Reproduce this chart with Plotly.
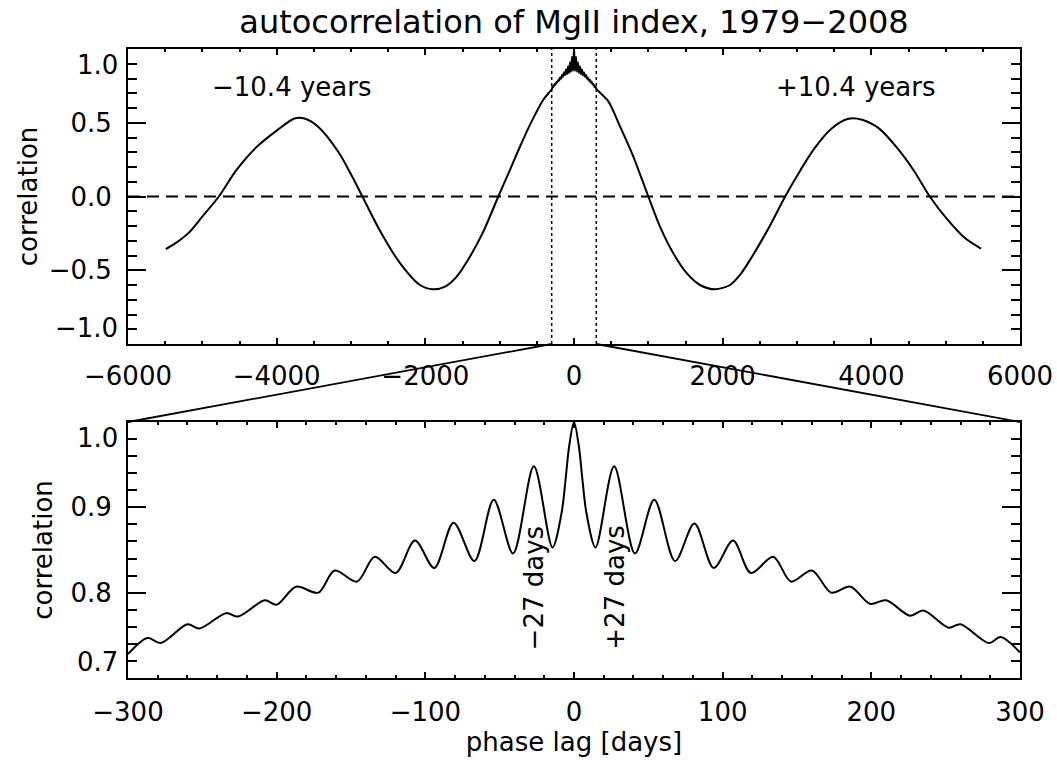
import plotly.graph_objects as go

# ---------------- data ----------------
# long-range autocorrelation (top panel), outside the +/-300 day window
lag_long_left = [-5492, -5364, -5181, -4998, -4778, -4540, -4265, -3991, -3762, -3625,
                 -3442, -3167, -2984, -2847, -2618, -2343, -2072, -1892, -1735, -1578,
                 -1399, -1220, -1018, -861, -726, -570, -413]
corr_long_left = [-0.356, -0.318, -0.245, -0.135, 0.0, 0.18, 0.338, 0.45, 0.529, 0.529,
                  0.473, 0.30, 0.135, 0.0, -0.225, -0.45, -0.600, -0.629, -0.611, -0.543,
                  -0.407, -0.238, 0.0, 0.181, 0.339, 0.509, 0.656]

lag_long_right = [462, 619, 798, 1000, 1157, 1336, 1516, 1695, 1897, 2099,
                  2233, 2405, 2634, 2841, 3048, 3232, 3462, 3692, 3876, 4106,
                  4336, 4566, 4786, 5025, 5255, 5476]
corr_long_right = [0.645, 0.475, 0.271, 0.0, -0.204, -0.385, -0.520, -0.600, -0.629, -0.600,
                   -0.532, -0.40, -0.20, 0.0, 0.18, 0.325, 0.46, 0.527, 0.52, 0.46,
                   0.336, 0.18, 0.0, -0.157, -0.28, -0.354]

# short-range autocorrelation (bottom panel), -300 .. +300 days
lag_short = [-300, -287, -278, -260, -252, -234, -226, -208, -200, -187,
             -172, -161, -146, -134, -120, -107, -94, -81, -67, -54,
             -41, -27, -14.5, -8.4, -5.7, -3.3, 0, 3.3, 5.7, 8.4,
             14.5, 27, 41, 54, 68, 81, 94, 107, 119, 134,
             146, 160, 173, 186, 199, 210, 226, 235, 252, 260,
             279, 287, 300]
corr_short = [0.728, 0.747, 0.741, 0.763, 0.758, 0.776, 0.772, 0.791, 0.786, 0.807,
              0.800, 0.826, 0.813, 0.842, 0.823, 0.861, 0.829, 0.882, 0.837, 0.909,
              0.846, 0.948, 0.853, 0.893, 0.932, 0.971, 1.0, 0.971, 0.932, 0.893,
              0.853, 0.948, 0.846, 0.909, 0.837, 0.881, 0.829, 0.861, 0.823, 0.842,
              0.813, 0.826, 0.800, 0.807, 0.787, 0.791, 0.773, 0.779, 0.759, 0.763,
              0.741, 0.748, 0.730]

top_xticks = [-6000, -4000, -2000, 0, 2000, 4000, 6000]
top_yticks = [-0.5, 0.0, 0.5]
bot_xticks = [-300, -200, -100, 0, 100, 200, 300]
bot_yticks = [0.8, 0.9]

title_text = "autocorrelation of MgII index, 1979\u22122008"
ytitle = "correlation"
xtitle = "phase lag [days]"
label_left_years = "\u221210.4 years"
label_right_years = "+10.4 years"
label_left_days = "\u221227 days"
label_right_days = "+27 days"
years_lag = 3800
days_lag = 27

# ---------------- layout constants ----------------
FONT = "DejaVu Sans"
W, H = 1057, 763
top_range = [-6000, 6000]
bot_range = [-300, 300]
top_dom = [0.531, 1.0]
bot_dom = [0.0, 0.407]

lag_top = lag_long_left + lag_short + lag_long_right
corr_top = corr_long_left + corr_short + corr_long_right

fig = go.Figure()
fig.add_trace(go.Scatter(x=lag_top, y=corr_top, mode="lines",
                         line=dict(color="black", width=2, shape="spline", smoothing=0.8),
                         xaxis="x", yaxis="y", showlegend=False, hoverinfo="skip"))
fig.add_trace(go.Scatter(x=lag_short, y=corr_short, mode="lines",
                         line=dict(color="black", width=2, shape="spline", smoothing=0.9),
                         xaxis="x2", yaxis="y2", showlegend=False, hoverinfo="skip"))

tickfont = dict(family=FONT, size=26, color="black")
common = dict(showline=True, linecolor="black", linewidth=2, mirror="ticks",
              ticks="inside", tickcolor="black", tickwidth=2, automargin=False,
              showgrid=False, zeroline=False, tickfont=tickfont)

fig.update_layout(
    template="none",
    width=W, height=H,
    paper_bgcolor="white", plot_bgcolor="white",
    margin=dict(l=128, r=37, t=49, b=85),
    title=dict(text=title_text, font=dict(family=FONT, size=32, color="black"),
               x=0.5, xref="paper", xanchor="center",
               y=1 - 22 / H, yref="container", yanchor="middle"),
    xaxis=dict(domain=[0, 1], range=top_range, anchor="y",
               tickmode="array", tickvals=top_xticks, ticklen=6,
               ticklabelstandoff=8,
               minor=dict(ticks="inside", ticklen=3, tickwidth=2, tickcolor="black",
                          tick0=0, dtick=500, showgrid=False),
               **common),
    yaxis=dict(domain=top_dom, range=[-1, 1], anchor="x",
               tickmode="array", tickvals=top_yticks, tickformat=".1f", ticklen=18,
               ticklabelstandoff=9,
               minor=dict(ticks="inside", ticklen=9, tickwidth=2, tickcolor="black",
                          tick0=0, dtick=0.1, showgrid=False),
               title=dict(text=ytitle, font=dict(family=FONT, size=26, color="black"),
                          standoff=4),
               **common),
    xaxis2=dict(domain=[0, 1], range=bot_range, anchor="y2",
                tickmode="array", tickvals=bot_xticks, ticklen=6,
                ticklabelstandoff=10,
                minor=dict(ticks="inside", ticklen=3, tickwidth=2, tickcolor="black",
                           tick0=0, dtick=20, showgrid=False),
                title=dict(text=xtitle, font=dict(family=FONT, size=26, color="black"),
                           standoff=5),
                **common),
    yaxis2=dict(domain=bot_dom, range=[0.7, 1.0], anchor="x2",
                tickmode="array", tickvals=bot_yticks, tickformat=".1f", ticklen=18,
                ticklabelstandoff=9,
                minor=dict(ticks="inside", ticklen=9, tickwidth=2, tickcolor="black",
                           tick0=0.7, dtick=0.02, showgrid=False),
                title=dict(text=ytitle, font=dict(family=FONT, size=26, color="black"),
                           standoff=10),
                **common),
)

# end tick labels, pulled inside the axis span as in the reference
end_labels = [("y", 1.0, "1.0", "top"), ("y", -1.0, "\u22121.0", "bottom"),
              ("y2", 1.0, "1.0", "top"), ("y2", 0.7, "0.7", "bottom")]
for yref, yv, txt, anc in end_labels:
    fig.add_annotation(x=0, xref="paper", xanchor="right", xshift=-9,
                       y=yv, yref=yref, yanchor=anc, text=txt, showarrow=False,
                       font=tickfont, borderpad=0)

ann_font = dict(family=FONT, size=26, color="black")
fig.add_annotation(x=-years_lag, y=0.74, xref="x", yref="y", text=label_left_years,
                   showarrow=False, font=ann_font)
fig.add_annotation(x=years_lag, y=0.74, xref="x", yref="y", text=label_right_years,
                   showarrow=False, font=ann_font)
fig.add_annotation(x=-days_lag, y=0.806, xref="x2", yref="y2", text=label_left_days,
                   textangle=-90, showarrow=False, font=ann_font)
fig.add_annotation(x=days_lag, y=0.806, xref="x2", yref="y2", text=label_right_days,
                   textangle=-90, showarrow=False, font=ann_font)

# zero line and zoom window markers in the top panel
fig.add_shape(type="line", xref="x domain", yref="y", x0=0, x1=1, y0=0, y1=0,
              line=dict(color="black", width=1.8, dash="12px,7px"))
for xv in bot_range:
    fig.add_shape(type="line", xref="x", yref="y domain", x0=xv, x1=xv, y0=0, y1=1,
                  line=dict(color="black", width=1.5, dash="dot"))

# connector lines from the top window to the bottom panel corners
def top_frac(v):
    return (v - top_range[0]) / (top_range[1] - top_range[0])

for xv, corner in zip(bot_range, [0.0, 1.0]):
    fig.add_shape(type="line", xref="paper", yref="paper",
                  x0=top_frac(xv), y0=top_dom[0], x1=corner, y1=bot_dom[1],
                  line=dict(color="black", width=1.8))

fig.write_html("out.html", config={"displayModeBar": False},
               post_script="document.body.style.margin='0';document.body.style.padding='0';")
